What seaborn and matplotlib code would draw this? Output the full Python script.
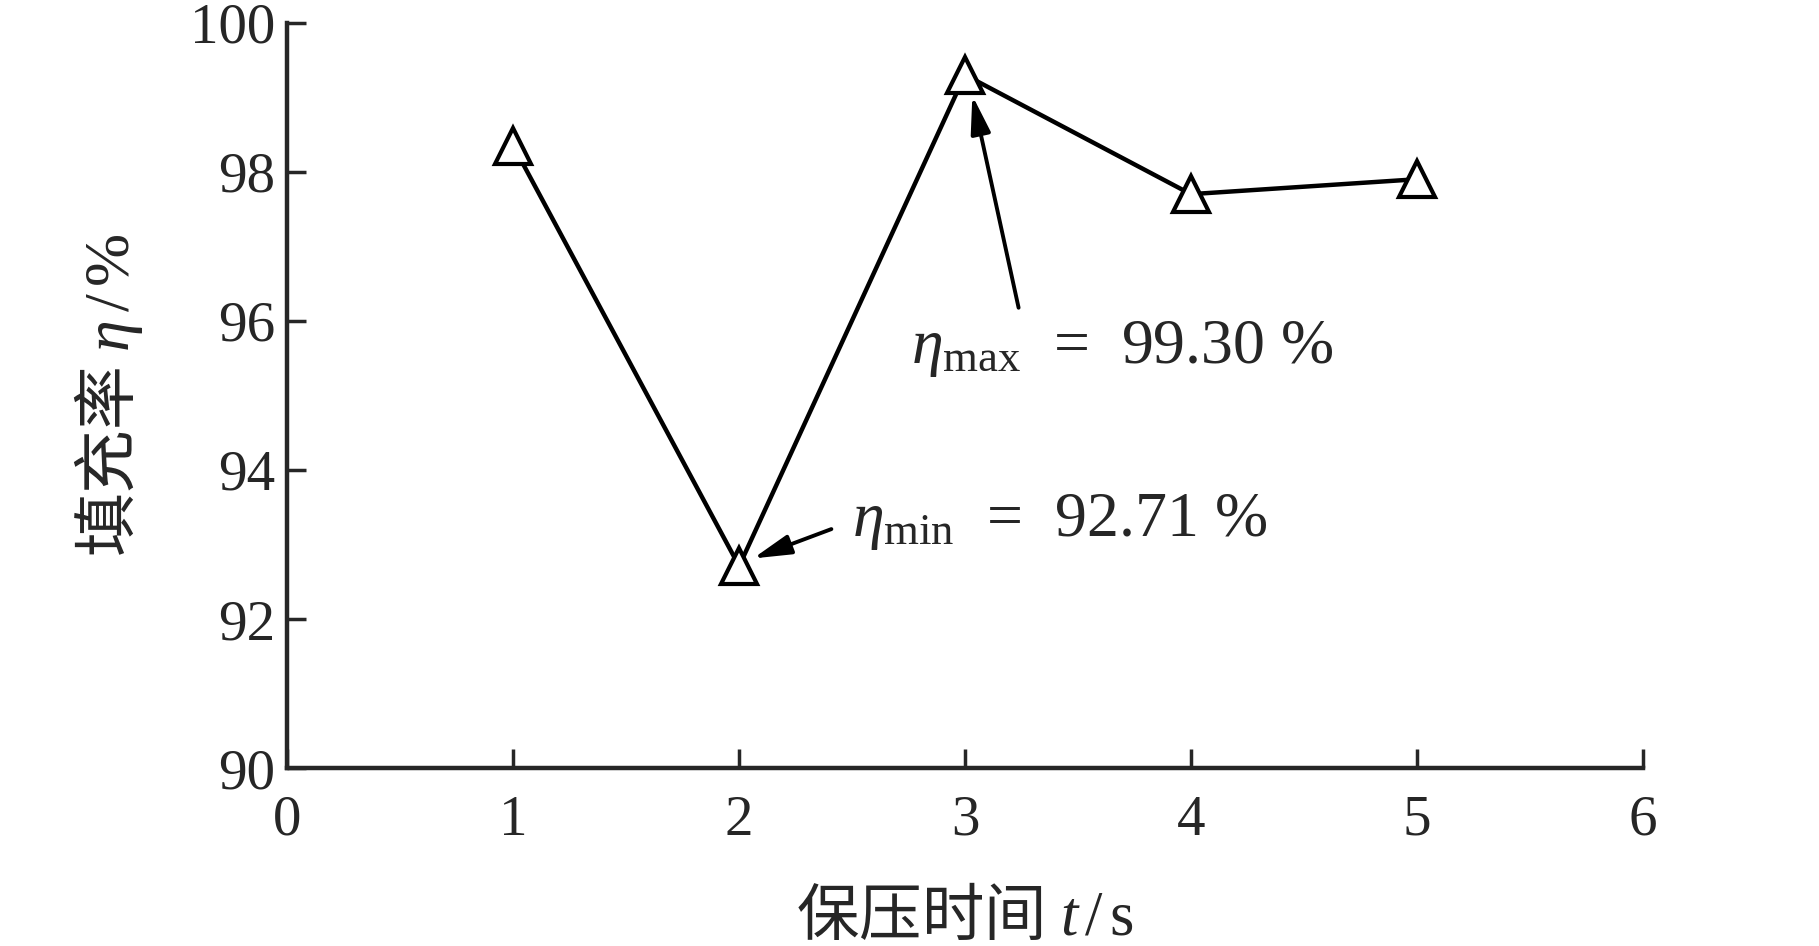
import matplotlib
matplotlib.use("Agg")
import matplotlib.pyplot as plt
import pandas as pd
import seaborn as sns

# hold time (s) vs filling rate (%)
hold_time = [1, 2, 3, 4, 5]
fill_rate = [98.35, 92.71, 99.30, 97.70, 97.90]
x_ticks = [0, 1, 2, 3, 4, 5, 6]
y_ticks = [90, 92, 94, 96, 98, 100]

sns.set_style("ticks")
plt.rcParams['font.family'] = ['Liberation Serif', 'Noto Sans CJK SC', 'DejaVu Sans']
plt.rcParams['mathtext.fontset'] = 'custom'
plt.rcParams['mathtext.rm'] = 'Liberation Serif'
plt.rcParams['mathtext.it'] = 'Liberation Serif:italic'

df = pd.DataFrame({"t": hold_time, "eta": fill_rate})

fig, ax = plt.subplots(figsize=(18.19, 9.46), dpi=100)
fig.subplots_adjust(left=0.158, right=0.903, top=0.976, bottom=0.188)

sns.lineplot(data=df, x="t", y="eta", ax=ax, color="black", linewidth=3.2,
             marker="^", markersize=26, markerfacecolor="white",
             markeredgecolor="black", markeredgewidth=3, zorder=3, clip_on=False)

ax.set_xlim(0, 6)
ax.set_ylim(90, 100)
ax.set_xticks(x_ticks)
ax.set_yticks(y_ticks)
ax.tick_params(direction="in", length=14, width=2.5, labelsize=41)
ax.tick_params(axis="x", pad=19)
ax.tick_params(axis="y", pad=9)
for s in ["left", "bottom"]:
    ax.spines[s].set_linewidth(3.2)
sns.despine(ax=ax)

cjk = ['Noto Sans CJK SC', 'DejaVu Sans']
ax.set_xlabel("保压时间 $t\\,/\\,\\mathrm{s}$", fontsize=45, family=cjk, labelpad=28)
ax.set_ylabel("填充率 $\\eta\\,/\\,\\mathrm{\\%}$", fontsize=46, family=cjk, labelpad=32)

arrow = dict(arrowstyle="-|>,head_length=2.3,head_width=0.6", color="black", lw=2.8)
ax.annotate("", xy=(3.03, 99.06), xytext=(3.24, 96.14), arrowprops=arrow)
ax.text(2.76, 95.62, "$\\eta_{\\rm max}$  =  99.30 %", fontsize=46, va="center", ha="left")
ax.annotate("", xy=(2.05, 92.80), xytext=(2.42, 93.22), arrowprops=arrow)
ax.text(2.50, 93.30, "$\\eta_{\\rm min}$  =  92.71 %", fontsize=46, va="center", ha="left")

plt.savefig("out.png", dpi=100)
